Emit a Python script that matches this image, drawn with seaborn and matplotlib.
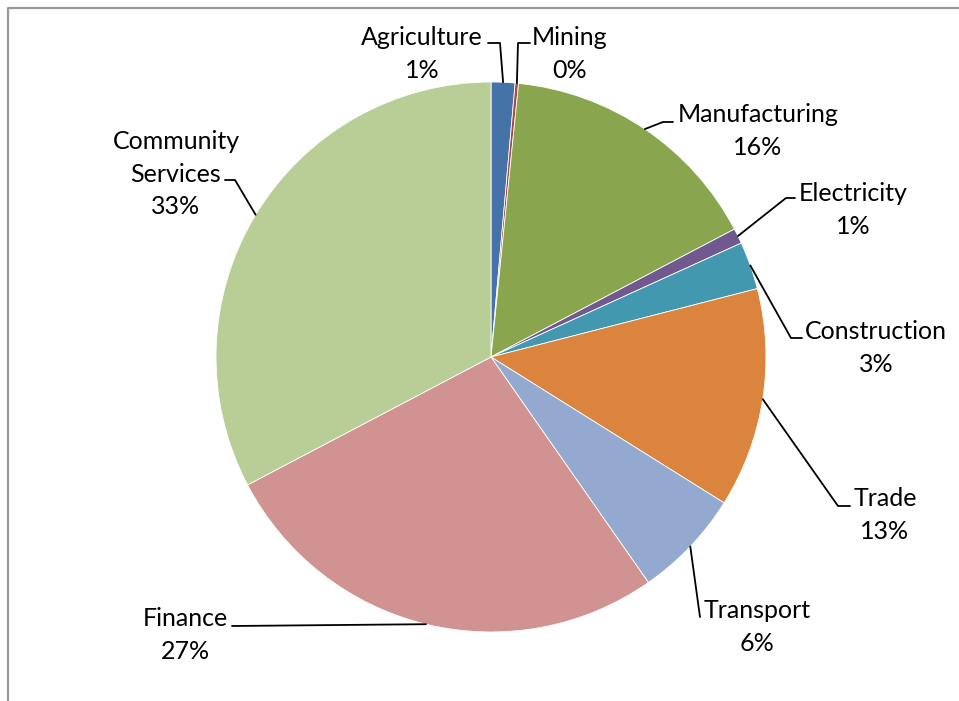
import numpy as np
import matplotlib
matplotlib.use("Agg")
import matplotlib.pyplot as plt
import seaborn as sns

# ------------------------------------------
# Data
# ------------------------------------------
sectors = ['Agriculture', 'Mining', 'Manufacturing', 'Electricity', 'Construction',
           'Trade', 'Transport', 'Finance', 'Community\nServices']
shares = [1.4, 0.2, 15.7, 0.9, 2.8, 12.9, 6.4, 27.0, 32.7]
colors = ['#4572A7', '#AA4643', '#89A54E', '#71588F', '#4198AF',
          '#DB843D', '#93A9CF', '#D19392', '#B9CD96']

# label layout (pixel coords, y down): text centre, leader start, elbow direction
label_pos = [(422, 54), (570, 54), (758, 131), (853, 210), (876, 348),
             (885, 515), (757, 627), (185, 635), (176, 174)]
leader_start = [(488, 43), (530, 43), (673, 122), (795, 198), (802, 338),
                (850, 506), (700, 617), (232, 626), (225, 180)]
elbow = [12, -12, -10, -9, -11, -12, 0, 0, 10]

# ------------------------------------------
# Plot
# ------------------------------------------
sns.set_theme(style="white")
plt.rcParams['font.family'] = ['Lato', 'DejaVu Sans']

W, H = 959, 701
fig = plt.figure(figsize=(W / 100, H / 100), dpi=100)
ax = fig.add_axes([0, 0, 1, 1])

cx, cy, r = 491, H - 357, 275
wedges, _ = ax.pie(shares, colors=colors, startangle=90, counterclock=False,
                   center=(cx, cy), radius=r, frame=True,
                   wedgeprops=dict(edgecolor='white', linewidth=0.6))
ax.set_xlim(0, W)
ax.set_ylim(0, H)
ax.set_aspect('equal')
ax.axis('off')

for w, name, val, (tx, ty), (sx, sy), e in zip(wedges, sectors, shares,
                                                 label_pos, leader_start, elbow):
    mid = np.deg2rad((w.theta1 + w.theta2) / 2)
    px, py = cx + r * np.cos(mid), cy + r * np.sin(mid)
    ax.plot([sx, sx + e, px], [H - sy, H - sy, py], color='black', lw=1.3)
    ax.text(tx, H - ty, f"{name}\n{round(val):.0f}%", ha='center', va='center',
            fontsize=18, linespacing=1.5, color='black')

# chart border
ax.plot([8, 8, W], [0, H - 8, H - 8], color='#999999', lw=1.6, clip_on=False)

fig.savefig('out.png', dpi=100)
